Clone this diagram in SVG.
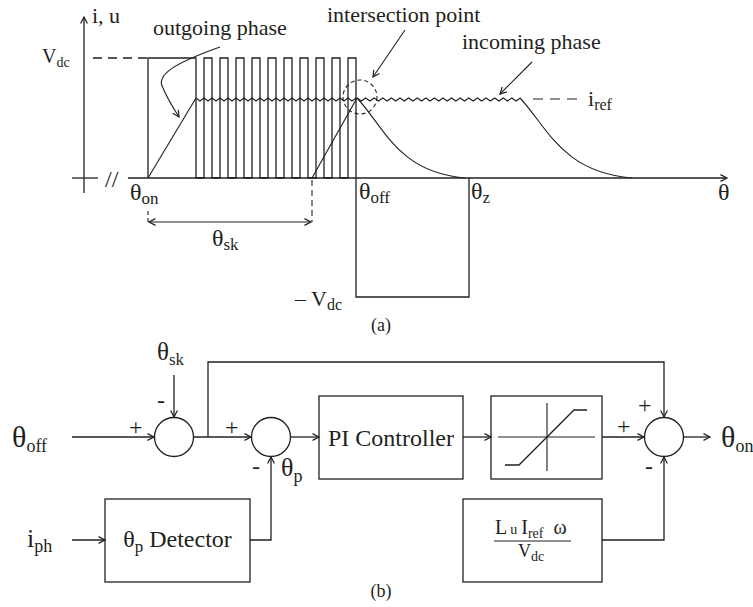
<svg xmlns="http://www.w3.org/2000/svg" width="753" height="607" viewBox="0 0 753 607">
<defs>
<style>
.ln{fill:none;stroke:#231f20;stroke-width:1.3}
.thin{fill:none;stroke:#231f20;stroke-width:1.1}
.ds{stroke-dasharray:9,6}
.dc{stroke-dasharray:4,3}
.t{font-family:"Liberation Serif","Times New Roman",serif;fill:#231f20}
.f22{font-size:22px}
.f20{font-size:20px}
.f24{font-size:24px}
.f18{font-size:18px}
.s14{font-size:14px}
.s16{font-size:16px}
.s17{font-size:17px}
.s18{font-size:18px}
.pm{font-size:24px}
</style>
<marker id="ah" markerWidth="9" markerHeight="9" refX="7" refY="4" orient="auto" markerUnits="userSpaceOnUse">
<path d="M0.5,0.6 L7,4 L0.5,7.4" fill="none" stroke="#231f20" stroke-width="1.2"/>
</marker>
<marker id="ah2" markerWidth="9" markerHeight="9" refX="7" refY="4" orient="auto-start-reverse" markerUnits="userSpaceOnUse">
<path d="M0.5,0.6 L7,4 L0.5,7.4" fill="none" stroke="#231f20" stroke-width="1.2"/>
</marker>
</defs>
<rect width="753" height="607" fill="#ffffff"/>

<!-- (a) waveform -->
<g id="plot-a">
<g id="axes">
<path class="ln" d="M84,193 V17" marker-end="url(#ah)"/>
<path class="ln" d="M72,178 H98"/>
<path class="ln" d="M128,178 H727" marker-end="url(#ah)"/>
<text class="t f24" x="105" y="187">//</text>
</g>
<g id="voltage">
<path class="ln ds" d="M93,58 H148"/>
<path class="ln" d="M148,178 V58 H196 V178 H204 V58 H212 V178 H220 V58 H228 V178 H236 V58 H244 V178 H252 V58 H260 V178 H268 V58 H276 V178 H284 V58 H292 V178 H300 V58 H308 V178 H316 V58 H324 V178 H332 V58 H340 V178 H348 V58 H356 V297 H469 V178"/>
</g>
<g id="current">
<path class="thin" d="M148,178 L196,98"/>
<path class="thin" d="M196,98 l4,3 4,-3 4,3 4,-3 4,3 4,-3 4,3 4,-3 4,3 4,-3 4,3 4,-3 4,3 4,-3 4,3 4,-3 4,3 4,-3 4,3 4,-3 4,3 4,-3 4,3 4,-3 4,3 4,-3 4,3 4,-3 4,3 4,-3 4,3 4,-3 4,3 4,-3 4,3 4,-3 4,3 4,-3 4,3 4,-3"/>
<path class="thin" d="M312,178 L357,98"/>
<path class="thin" d="M357,98 C385,128 398,172 465,178"/>
<path class="thin" d="M357,98 l4.3,3 4.3,-3 4.3,3 4.3,-3 4.3,3 4.3,-3 4.3,3 4.3,-3 4.3,3 4.3,-3 4.3,3 4.3,-3 4.3,3 4.3,-3 4.3,3 4.3,-3 4.3,3 4.3,-3 4.3,3 4.3,-3 4.3,3 4.3,-3 4.3,3 4.3,-3 4.3,3 4.3,-3 4.3,3 4.3,-3 4.3,3 4.3,-3 4.3,3 4.3,-3 4.3,3 4.3,-3 4.3,3 4.3,-3 4.3,3 4.3,-3"/>
<path class="thin" d="M520,98 C548,128 562,172 632,178"/>
<path class="thin" d="M533,99 H580" stroke-dasharray="10,7"/>
<circle class="thin dc" cx="360" cy="97" r="17"/>
</g>
<g id="dimension">
<path class="thin" d="M148,211 V222" stroke-dasharray="4,3"/>
<path class="thin" d="M312,180 V222" stroke-dasharray="6,4"/>
<path class="thin" d="M149,222 H311" marker-start="url(#ah2)" marker-end="url(#ah2)"/>
</g>
<g id="annotations">
<path class="thin" d="M405,30 L373,77" marker-end="url(#ah)"/>
<path class="thin" d="M532,62 L500,94" marker-end="url(#ah)"/>
<path class="thin" d="M220,47 C175,63 155,75 163,88 C167,98 172,106 179,117" marker-end="url(#ah)"/>
</g>
<g id="labels-a">
<text class="t f22" x="92" y="23">i, u</text>
<text class="t f22" x="153" y="35">outgoing phase</text>
<text class="t f22" x="327" y="22">intersection point</text>
<text class="t f22" x="462" y="49">incoming phase</text>
<text class="t f20" x="42" y="63">V<tspan class="s14" dy="4">dc</tspan></text>
<text class="t f22" x="588" y="106">i<tspan class="s16" dy="4">ref</tspan></text>
<text class="t f24" x="130" y="200">θ<tspan class="s17" dy="4">on</tspan></text>
<text class="t f24" x="359" y="199">θ<tspan class="s17" dy="4">off</tspan></text>
<text class="t f24" x="471" y="199">θ<tspan class="s17" dy="4">z</tspan></text>
<text class="t f24" x="718" y="200">θ</text>
<text class="t f24" x="212" y="246">θ<tspan class="s17" dy="4">sk</tspan></text>
<text class="t f22" x="295" y="306">– V<tspan class="s16" dy="4">dc</tspan></text>
<text class="t f18" x="381" y="331" text-anchor="middle">(a)</text>
</g>
</g>

<!-- (b) block diagram -->
<g id="connectors">
<path class="ln" d="M72,437 H154" marker-end="url(#ah)"/>
<path class="ln" d="M174,375 V417" marker-end="url(#ah)"/>
<path class="ln" d="M193.5,437 H251" marker-end="url(#ah)"/>
<path class="ln" d="M208,437 V362 H664 V417" marker-end="url(#ah)"/>
<path class="ln" d="M290.5,437 H319" marker-end="url(#ah)"/>
<path class="ln" d="M463,437 H491" marker-end="url(#ah)"/>
<path class="ln" d="M602,437 H644" marker-end="url(#ah)"/>
<path class="ln" d="M683.5,437 H710" marker-end="url(#ah)"/>
<path class="ln" d="M72,540 H105" marker-end="url(#ah)"/>
<path class="ln" d="M250,540 H271 V457" marker-end="url(#ah)"/>
<path class="ln" d="M602,540 H664 V457" marker-end="url(#ah)"/>
</g>
<g id="in-theta-off"><text class="t" font-size="30" x="12" y="447">θ<tspan class="s18" dy="5">off</tspan></text></g>
<g id="in-theta-sk"><text class="t" font-size="25" x="157" y="360">θ<tspan class="s17" dy="5">sk</tspan></text></g>
<g id="in-iph"><text class="t" font-size="26" x="27" y="547">i<tspan class="s18" dy="5">ph</tspan></text></g>
<g id="sum1">
<circle class="ln" cx="174" cy="437" r="19.5"/>
<text class="t pm" x="129" y="435">+</text>
<text class="t pm" x="157" y="408">-</text>
</g>
<g id="sum2">
<circle class="ln" cx="271" cy="437" r="19.5"/>
<text class="t pm" x="225" y="435">+</text>
<text class="t pm" x="252" y="474">-</text>
<text class="t" font-size="26" x="281" y="476">θ<tspan class="s18" dy="6">p</tspan></text>
</g>
<g id="pi-controller">
<rect class="ln" x="319" y="396" width="144" height="83"/>
<text class="t f24" x="391" y="446" text-anchor="middle">PI Controller</text>
</g>
<g id="saturation">
<rect class="ln" x="491" y="396" width="111" height="83"/>
<path class="thin" d="M498,437 H595 M547,403 V471"/>
<path class="ln" d="M505,465 H519 L574,410 H587"/>
</g>
<g id="sum3">
<circle class="ln" cx="664" cy="437" r="19.5"/>
<text class="t pm" x="617" y="434">+</text>
<text class="t pm" x="638" y="413">+</text>
<text class="t pm" x="645" y="474">-</text>
</g>
<g id="out-theta-on"><text class="t" font-size="30" x="721" y="447">θ<tspan class="s18" dy="5">on</tspan></text></g>
<g id="detector">
<rect class="ln" x="105" y="499" width="145" height="83"/>
<text class="t f24" x="177.5" y="547" text-anchor="middle">θ<tspan class="s17" dy="5">p</tspan><tspan dy="-5"> Detector</tspan></text>
</g>
<g id="formula">
<rect class="ln" x="463" y="499" width="139" height="83"/>
<text class="t f20" x="495" y="534">L<tspan class="s14" dx="3">u</tspan><tspan dx="4">I</tspan><tspan class="s14" dy="4">ref</tspan><tspan dy="-4" dx="10">ω</tspan></text>
<path class="thin" d="M494,541 H571"/>
<text class="t f18" x="518" y="557">V<tspan class="s14" dy="4">dc</tspan></text>
</g>
<text class="t f18" x="381" y="597" text-anchor="middle">(b)</text>
</svg>
